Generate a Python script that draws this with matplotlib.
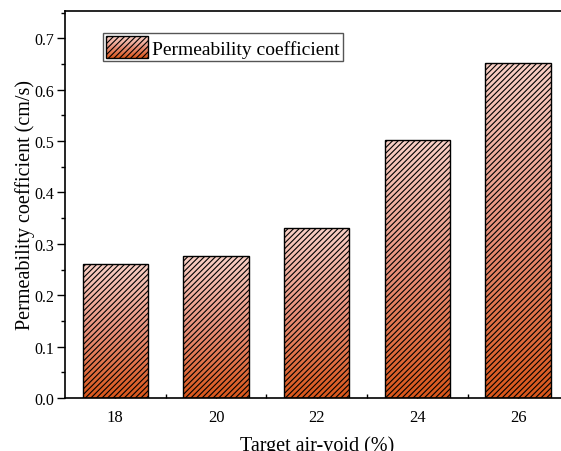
import numpy as np
import matplotlib
matplotlib.use("Agg")
import matplotlib.pyplot as plt
from matplotlib.colors import LinearSegmentedColormap
from matplotlib.patches import Rectangle
from matplotlib.legend_handler import HandlerBase
from matplotlib.ticker import MultipleLocator, FixedLocator, FormatStrFormatter

plt.rcParams['font.family'] = ['Liberation Serif', 'DejaVu Serif']
plt.rcParams['hatch.linewidth'] = 0.8

# data
air_void = ['18', '20', '22', '24', '26']
permeability = [0.261, 0.276, 0.331, 0.502, 0.651]

grad = LinearSegmentedColormap.from_list('g', ['#d9561a', '#e8907a', '#f9d0c6'])


class GradientHandler(HandlerBase):
    def create_artists(self, legend, orig_handle, xdescent, ydescent,
                       width, height, fontsize, trans):
        arts = []
        n = 20
        for k in range(n):
            r = Rectangle((-xdescent, -ydescent + height * k / n), width, height / n + 0.3,
                          facecolor=grad(k / (n - 1)), edgecolor='none', transform=trans)
            arts.append(r)
        top = Rectangle((-xdescent, -ydescent), width, height, facecolor='none',
                        edgecolor='black', hatch='//////', lw=1.0, transform=trans)
        arts.append(top)
        return arts


fig = plt.figure(figsize=(5.61, 4.52), dpi=100)
ax = fig.add_axes([65 / 561, 53 / 452, 503.5 / 561, 387 / 452])

x = np.arange(len(air_void))
bars = ax.bar(x, permeability, width=0.65, facecolor='none', edgecolor='black',
              hatch='//////', lw=1.0, zorder=3)

# vertical gradient inside each bar
g = np.linspace(0, 1, 256).reshape(-1, 1)
for b in bars:
    x0, y0 = b.get_x(), b.get_y()
    w, h = b.get_width(), b.get_height()
    im = ax.imshow(g, cmap=grad, origin='lower', aspect='auto',
                   extent=[x0, x0 + w, y0, y0 + h], zorder=2)
    im.set_clip_path(b)

ax.set_xlim(-0.5, 4.5)
ax.set_ylim(0, 0.753)
ax.set_xticks(x)
ax.set_xticklabels(air_void)
ax.xaxis.set_minor_locator(FixedLocator(x[:-1] + 0.5))
ax.yaxis.set_major_locator(MultipleLocator(0.1))
ax.yaxis.set_minor_locator(MultipleLocator(0.05))
ax.yaxis.set_major_formatter(FormatStrFormatter('%.1f'))

ax.tick_params(axis='x', which='both', direction='in', labelsize=12, width=1.0)
ax.tick_params(axis='x', which='major', length=5, pad=8)
ax.tick_params(axis='x', which='minor', length=3)
ax.tick_params(axis='y', which='both', direction='out', labelsize=11.5, width=1.0)
ax.tick_params(axis='y', which='major', length=6, pad=1.5)
ax.tick_params(axis='y', which='minor', length=3)
for s in ax.spines.values():
    s.set_linewidth(1.2)

ax.set_ylabel('Permeability coefficient (cm/s)', fontsize=14.5, labelpad=-0.5)
ax.set_xlabel('Target air-void (%)', fontsize=14.5, labelpad=7)

ax.legend([bars[0]], ['Permeability coefficient'], handler_map={type(bars[0]): GradientHandler()},
          loc='upper left', bbox_to_anchor=(0.075, 0.943), fontsize=14, frameon=True,
          fancybox=False, edgecolor='#555555', framealpha=1, borderpad=0.15,
          handlelength=2.2, handleheight=1.4, handletextpad=0.2, borderaxespad=0)

fig.savefig('out.png', dpi=100)
